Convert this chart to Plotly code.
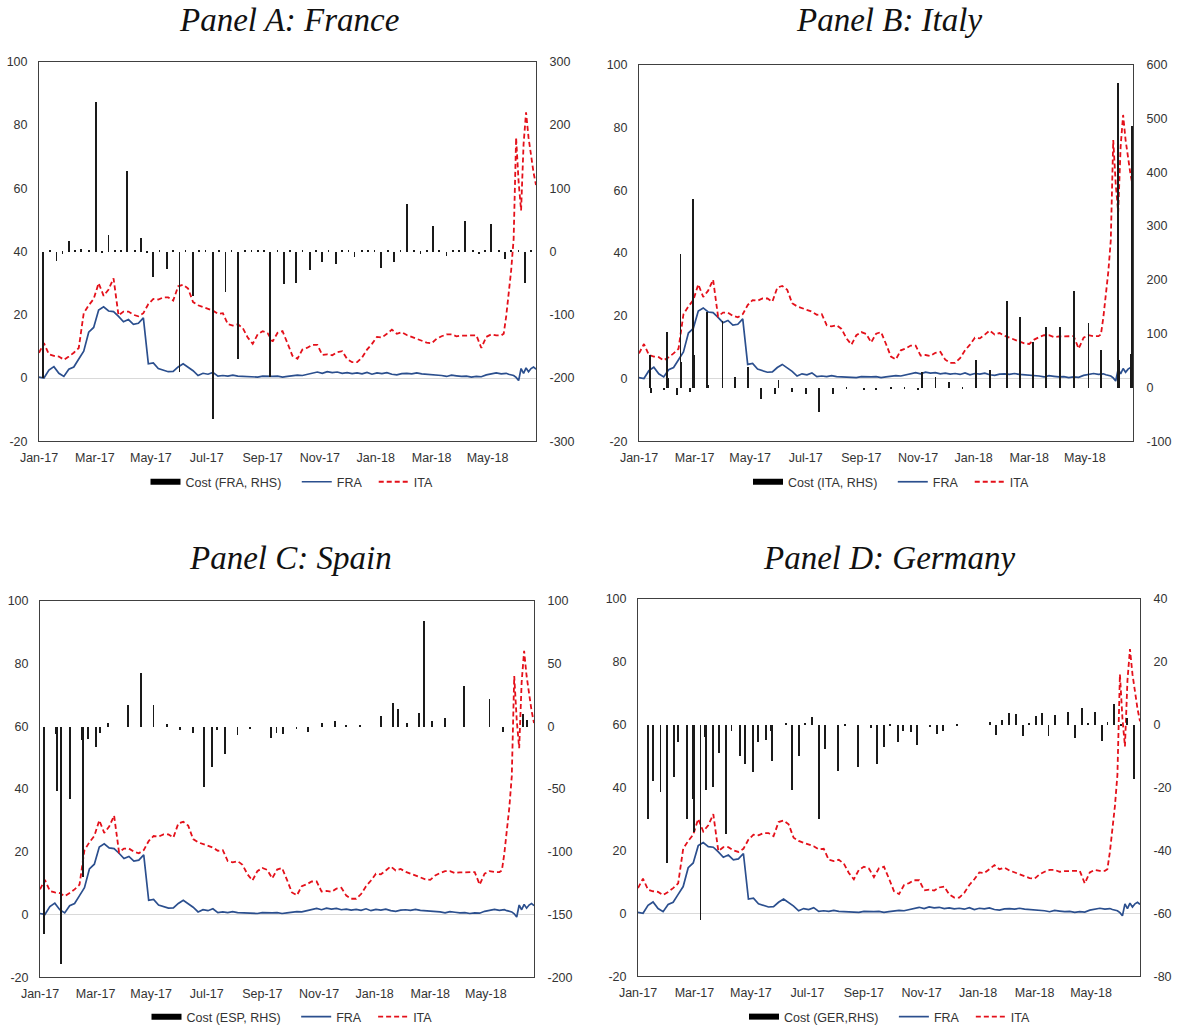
import plotly.graph_objects as go

# ---------------- data (x = trading-day observation number) ----------------
obs = list(range(0, 372, 4)) + list(range(372, 401, 2))

fra = [0.3, 0.0, 2.5, 3.6, 1.5, 0.5, 2.8, 3.5, 6.0, 8.5,
       14.5, 16.0, 21.5, 22.5, 21.2, 21.0, 19.5, 17.8, 18.5, 17.0,
       17.3, 19.0, 4.5, 4.8, 3.0, 2.4, 2.0, 2.1, 3.5, 4.5,
       3.5, 2.3, 0.8, 1.5, 1.2, 1.8, 0.6, 0.8, 0.6, 0.9,
       0.6, 0.5, 0.4, 0.5, 0.3, 0.6, 0.5, 0.5, 0.6, 0.3,
       0.5, 0.7, 0.9, 0.8, 1.2, 1.6, 1.9, 1.5, 2.0, 1.7,
       1.9, 1.5, 1.7, 1.4, 1.6, 1.3, 1.8, 1.2, 1.6, 1.4,
       1.7, 1.2, 1.0, 1.4, 1.5, 1.3, 1.6, 1.3, 1.2, 1.0,
       1.0, 0.8, 0.5, 0.9, 0.7, 0.5, 0.6, 0.3, 0.5, 0.4,
       1.0, 1.2, 1.6,
       1.3, 1.5, 1.5, 1.2, 1.0, 0.8, 0.2, -0.8, 3.0, 1.5, 3.2, 2.0, 3.0, 3.5, 2.8]

ita = [8.0, 11.0, 7.5, 7.0, 6.8, 5.8, 6.8, 8.0, 9.5, 20.5,
       23.0, 25.0, 30.0, 26.0, 28.0, 31.5, 19.8, 21.0, 21.0, 20.0,
       19.5, 20.5, 23.4, 25.0, 24.8, 25.5, 25.5, 24.5, 29.0, 29.5,
       28.3, 24.0, 23.0, 22.5, 22.0, 21.3, 20.3, 20.5, 17.0, 16.6,
       17.0, 15.8, 12.8, 10.8, 13.8, 14.8, 14.2, 11.5, 14.3, 14.8,
       11.0, 7.0, 6.1, 9.0, 9.6, 10.5, 10.5, 7.3, 7.5, 7.2,
       8.2, 8.5, 6.0, 5.0, 5.0, 6.5, 9.0, 10.8, 13.0, 12.8,
       14.0, 15.3, 14.0, 14.5, 13.6, 13.0, 12.5, 12.0, 11.2, 11.0,
       12.4, 13.2, 13.8, 13.8, 13.2, 13.4, 13.4, 13.6, 13.5, 9.5,
       13.0, 13.8, 13.5,
       13.5, 14.0, 19.5, 27.0, 34.0, 44.0, 76.0, 62.0, 53.0, 74.0, 84.0, 76.0, 70.0, 65.0, 61.0]

tick_obs = [0, 45, 90, 135, 180, 226, 271, 316, 361]
tick_labels = ["Jan-17", "Mar-17", "May-17", "Jul-17", "Sep-17", "Nov-17", "Jan-18", "Mar-18", "May-18"]
left_ticks = [-20, 0, 20, 40, 60, 80, 100]

cost_fra_obs = [3.5, 9, 14, 19, 24, 29, 34, 40, 46, 51, 56, 61, 66, 71, 77, 82, 87, 92, 97, 103,
                108, 113, 118, 124, 129, 134, 140, 145, 150, 155, 160, 166, 171, 176, 181, 186, 192,
                197, 202, 207, 212, 218, 223, 228, 233, 239, 244, 249, 254, 260, 265, 270, 275, 281,
                286, 291, 296, 302, 307, 312, 317, 322, 328, 333, 338, 343, 349, 354, 359, 364, 370,
                375, 380, 386, 391, 396]
cost_fra = [-200, 1.5, -15, -3, 17, 2, 5, 1.5, 237, -2, 27, 2, 1.5, 128, 1.5, 21, -2, -40, 1.5, -27,
            1.5, -190, 2, -70, 1.5, 1.5, -264, 1.5, -63, 1.5, -170, 1.5, 1.5, 1.5, 1.5, -198, 1.5,
            -51, 1.5, -49, 1.5, -29, 1.5, -16, 1.5, -20, 1.5, 1.5, -8, 1.5, 1.5, 1.5, -26, 1.5,
            -16, 1.5, 75, 1.5, -3, 1.5, 41, 1.5, -7, 1.5, 1.5, 48, 1.5, -4, 1.5, 44, 1.5,
            -12, 1.5, 1.5, -50, 1.5]

cost_ita_obs = [9, 10, 20.5, 22.4, 23.5, 31, 33.5, 34.5, 41, 43.7, 44.7, 54.8, 55.8, 67.7, 77.7, 88.5,
                99, 110, 113, 124, 135, 146, 157, 168, 182, 192, 204, 215, 226, 229, 240, 251, 262,
                273, 284, 298, 308.5, 319, 329.5, 341, 352, 364, 374, 388, 389, 398, 399.2]
cost_ita = [60, -10, -5, 103, 18, -14, 248, 47, -8, 350, 61, 140, 5, 125, 20, 38,
            -20, -11, 14, -8, -11, -45, -11, -3, -5, -5, -3, -3, -5, 30, 20, 10, -3,
            51, 33, 162, 131, 85, 113, 113, 180, 121, 70, 566, 51, 63, 486]

cost_esp_obs = [3.5, 13, 14, 17, 24.3, 33.7, 34.8, 39, 45.3, 48.6, 55.3, 71.5, 81.8, 91.8, 102.6,
                113.4, 123.6, 132.8, 139.5, 143.6, 150, 160, 170, 186.8, 191.6, 197, 207.8, 217,
                228.6, 238.8, 248, 259, 276, 286, 289.6, 297, 307, 311, 317.6, 328, 343.6, 364,
                375, 390.8, 394.6]
cost_esp = [-165, -6, -51, -189, -58, -11, -120, -10, -16, -5, 2.5, 17, 43, 17, 2,
            -3, -5, -48, -32, -3, -22, -7, -2, -9, -5, -6, -2, -4,
            2.6, 4.5, 1.5, 1.5, 8.7, 19, 14, 3, 11, 84, 4, 7, 32, 22,
            -4, 10, 5]

cost_ger_obs = [8, 12, 18, 23.4, 28.4, 32.1, 39, 43.8, 44.8, 49.7, 53.1, 54.4, 60, 64.5, 70.4, 74.4,
                81, 85.5, 91.6, 95.6, 101.7, 106, 107, 118, 123, 128, 132.8, 138.9, 144, 149.3,
                159.6, 165, 175.3, 185.9, 190.7, 196, 201, 207, 211.4, 217.3, 222.6, 232.7, 238,
                243.3, 254, 280.5, 285.3, 289.8, 295.6, 301.2, 306.5, 311.3, 316.9, 322.2, 327,
                332.5, 342.9, 348.2, 353.5, 358.8, 363.9, 369.5, 374.2, 379.5, 385, 389.9, 395.5]
cost_ger = [-30, -18, -21.4, -44, -16.7, -5.6, -30, -23.5, -34, -62, -4, -20.7, -19.8, -8.8, -34.6, -2,
            -9.8, -12.5, -14.9, -5.6, -4.9, -2, -11.4, 0.5, -20.6, -9.8, 0.7, 2.5, -30, -7.8,
            -14.6, -0.5, -13.5, -1, -12.5, -6.9, -0.5, -5.3, -2, -2.4, -6.4, -0.8, -3,
            -2, -0.5, 1, -3.2, 1.5, 3.9, 3.6, -3.5, 0.7, 2.8, 3.9, -3.5,
            3.2, 4.1, -4.2, 5.3, 0.3, 4.2, -5, 1, 6.7, -0.5, 2.3, -17.2]

# ---------------- layout helpers ----------------
W, H = 1186, 1032
AXC = "#404040"
BLUE = "#2B4F8E"
RED = "#E4101A"
SP = "\u00a0"

panels = [
    dict(title="Panel A: France", cost_name="Cost (FRA, RHS)", bx=cost_fra_obs, by=cost_fra,
         rticks=[-300, -200, -100, 0, 100, 200, 300], px=(39, 536), py=(62, 443),
         tx=289, ty=20, lx=292, ly=484),
    dict(title="Panel B: Italy", cost_name="Cost (ITA, RHS)", bx=cost_ita_obs, by=cost_ita,
         rticks=[-100, 0, 100, 200, 300, 400, 500, 600], px=(639, 1133), py=(65, 443),
         tx=889, ty=20, lx=891, ly=484),
    dict(title="Panel C: Spain", cost_name="Cost (ESP, RHS)", bx=cost_esp_obs, by=cost_esp,
         rticks=[-200, -150, -100, -50, 0, 50, 100], px=(40, 534), py=(603, 981),
         tx=290, ty=560, lx=292, ly=1021),
    dict(title="Panel D: Germany", cost_name="Cost (GER,RHS)", bx=cost_ger_obs, by=cost_ger,
         rticks=[-80, -60, -40, -20, 0, 20, 40], px=(638, 1140), py=(601, 980),
         tx=889, ty=560, lx=890, ly=1021),
]

fig = go.Figure()
layout = {}
annotations = []

for i, p in enumerate(panels):
    n = i + 1
    xa = "x" if n == 1 else f"x{n}"
    yl_n = 2 * n - 1
    yr_n = 2 * n
    yl = "y" if yl_n == 1 else f"y{yl_n}"
    yr = f"y{yr_n}"
    leg = "legend" if n == 1 else f"legend{n}"

    fig.add_trace(go.Scatter(x=[None], y=[None], mode="lines", name=p["cost_name"] + SP * 3,
                             line=dict(color="black", width=6), xaxis=xa, yaxis=yl, legend=leg,
                             hoverinfo="skip"))
    fig.add_trace(go.Scatter(x=obs, y=fra, mode="lines", name="FRA" + SP * 2,
                             line=dict(color=BLUE, width=1.7), xaxis=xa, yaxis=yl, legend=leg))
    fig.add_trace(go.Scatter(x=obs, y=ita, mode="lines", name="ITA",
                             line=dict(color=RED, width=1.8, dash="5px,3px"), xaxis=xa, yaxis=yl,
                             legend=leg))
    fig.add_trace(go.Bar(x=p["bx"], y=p["by"], width=0.6,
                         marker=dict(color="#1a1a1a", line_width=0),
                         xaxis=xa, yaxis=yr, showlegend=False, name=p["cost_name"]))

    dx = [p["px"][0] / W, p["px"][1] / W]
    dy = [1 - p["py"][1] / H, 1 - p["py"][0] / H]
    xkey = "xaxis" if n == 1 else f"xaxis{n}"
    layout[xkey] = dict(domain=dx, range=[0, 400], anchor=yl, tickvals=tick_obs, ticktext=tick_labels,
                        showline=True, mirror=True, linecolor=AXC, linewidth=1, showgrid=False,
                        zeroline=False, ticks="", ticklabelstandoff=5)
    layout[f"yaxis{'' if yl_n == 1 else yl_n}"] = dict(
        domain=dy, range=[-20, 100], anchor=xa, tickvals=left_ticks,
        ticktext=[str(v) for v in left_ticks], showline=True, mirror=True, linecolor=AXC,
        linewidth=1, showgrid=False, zeroline=True, zerolinecolor="#D9D9D9", zerolinewidth=1,
        ticks="", ticklabelstandoff=8)
    layout[f"yaxis{yr_n}"] = dict(
        overlaying=yl, side="right", anchor=xa, range=[p["rticks"][0], p["rticks"][-1]],
        tickvals=p["rticks"], ticktext=[str(v) for v in p["rticks"]], showline=True,
        linecolor=AXC, linewidth=1, showgrid=False, zeroline=False, ticks="", ticklabelstandoff=10)
    layout[leg] = dict(orientation="h", x=p["lx"] / W, y=1 - p["ly"] / H, xanchor="center",
                       yanchor="middle", bgcolor="rgba(0,0,0,0)", itemwidth=30,
                       font=dict(size=12.5, color="#333333"), traceorder="normal")
    annotations.append(dict(text=f"<i>{p['title']}</i>", x=p["tx"] / W, y=1 - p["ty"] / H,
                            xref="paper", yref="paper", xanchor="center", yanchor="middle",
                            showarrow=False,
                            font=dict(family="Liberation Serif, DejaVu Serif, serif", size=33,
                                      color="#111111")))

fig.update_layout(
    width=W, height=H, margin=dict(l=0, r=0, t=0, b=0), autosize=False,
    template="none", paper_bgcolor="white", plot_bgcolor="white",
    font=dict(family="Liberation Sans, Arial, sans-serif", size=12.5, color="#333333"),
    annotations=annotations, bargap=0, **layout)

fig.write_html("out.html")
